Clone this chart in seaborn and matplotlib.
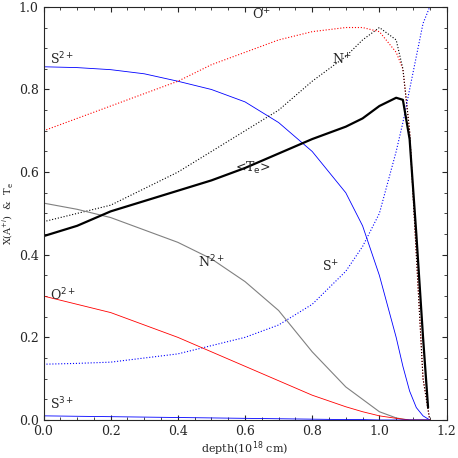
import matplotlib
matplotlib.use("Agg")
import matplotlib.pyplot as plt
import seaborn as sns
from matplotlib.ticker import MultipleLocator

sns.set_style("ticks")
plt.rcParams['font.family'] = ['DejaVu Serif']

depth_a = [0, 0.1, 0.2, 0.3, 0.4, 0.5, 0.6, 0.7, 0.8, 0.9, 0.95, 1.0, 1.05, 1.07, 1.09, 1.11, 1.13, 1.15]
s2p = [0.855, 0.853, 0.848, 0.838, 0.82, 0.80, 0.77, 0.72, 0.65, 0.55, 0.47, 0.35, 0.2, 0.13, 0.07, 0.03, 0.01, 0.0]
op = [0.70, 0.73, 0.76, 0.79, 0.82, 0.86, 0.89, 0.92, 0.94, 0.95, 0.95, 0.94, 0.89, 0.85, 0.7, 0.4, 0.1, 0.0]
np_ = [0.48, 0.50, 0.52, 0.56, 0.60, 0.65, 0.70, 0.75, 0.82, 0.88, 0.92, 0.95, 0.92, 0.85, 0.7, 0.4, 0.1, 0.0]
sp = [0.135, 0.137, 0.14, 0.15, 0.16, 0.18, 0.20, 0.23, 0.28, 0.36, 0.42, 0.50, 0.65, 0.72, 0.80, 0.88, 0.96, 1.0]
n2p = [0.525, 0.51, 0.49, 0.46, 0.43, 0.39, 0.335, 0.265, 0.165, 0.08, 0.05, 0.02, 0.005, 0.002, 0.0, 0.0, 0.0, 0.0]
o2p = [0.30, 0.28, 0.26, 0.23, 0.20, 0.165, 0.13, 0.095, 0.06, 0.032, 0.02, 0.01, 0.004, 0.002, 0.0, 0.0, 0.0, 0.0]
s3p = [0.01, 0.009, 0.008, 0.007, 0.006, 0.005, 0.004, 0.003, 0.002, 0.001, 0.001, 0.0, 0.0, 0.0, 0.0, 0.0, 0.0, 0.0]

depth_t = [0, 0.1, 0.2, 0.3, 0.4, 0.5, 0.6, 0.7, 0.8, 0.9, 0.95, 1.0, 1.05, 1.07, 1.09, 1.11, 1.13, 1.145]
te = [0.445, 0.47, 0.505, 0.53, 0.555, 0.58, 0.61, 0.645, 0.68, 0.71, 0.73, 0.76, 0.78, 0.775, 0.68, 0.45, 0.2, 0.03]

fig, ax = plt.subplots(figsize=(4.58, 4.58), dpi=100)
series = [
    (s2p, "blue", "-", 0.6), (op, "red", ":", 0.8), (np_, "black", ":", 0.8),
    (sp, "blue", ":", 0.8), (n2p, "gray", "-", 0.8), (o2p, "red", "-", 0.6),
    (s3p, "blue", "-", 0.6),
]
for vals, c, ls, lw in series:
    sns.lineplot(x=depth_a, y=vals, ax=ax, color=c, linestyle=ls, linewidth=lw)
sns.lineplot(x=depth_t, y=te, ax=ax, color="black", linewidth=1.6)

for x, y, t in [(0.02, 0.86, "S$^{2+}$"), (0.62, 0.97, "O$^{+}$"), (0.86, 0.86, "N$^{+}$"),
                (0.57, 0.6, r"<T$_{\rm e}$>"), (0.46, 0.37, "N$^{2+}$"), (0.83, 0.36, "S$^{+}$"),
                (0.02, 0.29, "O$^{2+}$"), (0.02, 0.025, "S$^{3+}$")]:
    ax.text(x, y, t, fontsize=9)

ax.set_xlim(0, 1.2); ax.set_ylim(0, 1)
ax.xaxis.set_major_locator(MultipleLocator(0.2)); ax.xaxis.set_minor_locator(MultipleLocator(0.05))
ax.yaxis.set_major_locator(MultipleLocator(0.2)); ax.yaxis.set_minor_locator(MultipleLocator(0.05))
ax.tick_params(which='both', direction='in', top=True, right=True, labelsize=9)
ax.set_xlabel("depth(10$^{18}$ cm)", fontsize=8, labelpad=1)
ax.set_ylabel("X(A$^{+i}$)  &  T$_{\\rm e}$", fontsize=7, labelpad=2)
fig.subplots_adjust(left=0.095, right=0.975, top=0.985, bottom=0.083)
fig.savefig("out.png", dpi=100)
